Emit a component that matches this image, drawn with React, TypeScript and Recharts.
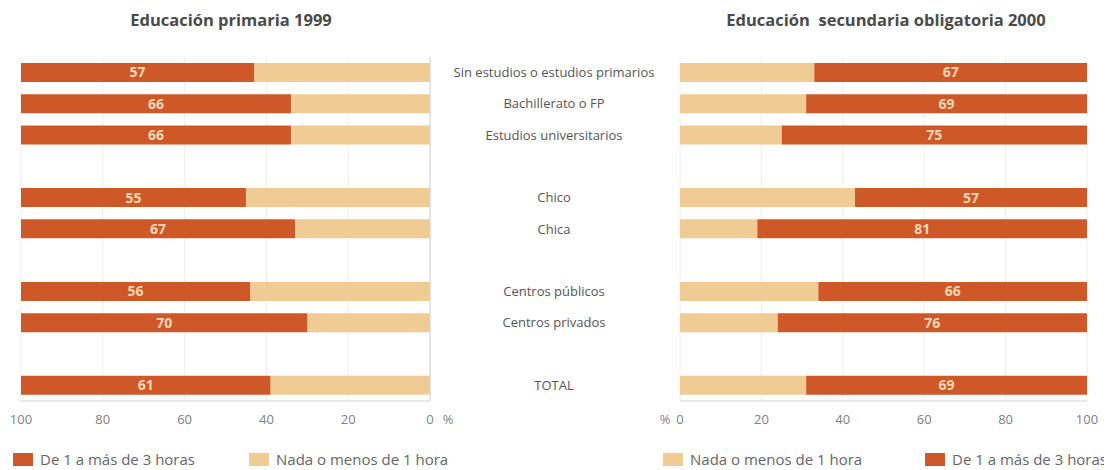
import { BarChart, Bar, XAxis, YAxis, CartesianGrid, LabelList } from "recharts"

const categories = [
  "Sin estudios o estudios primarios",
  "Bachillerato o FP",
  "Estudios universitarios",
  "",
  "Chico",
  "Chica",
  "",
  "Centros públicos",
  "Centros privados",
  "",
  "TOTAL",
]

// Educación primaria 1999
const primariaMas = [57, 66, 66, null, 55, 67, null, 56, 70, null, 61]
const primariaNada = [43, 34, 34, null, 45, 33, null, 44, 30, null, 39]

// Educación secundaria obligatoria 2000
const secundariaNada = [33, 31, 25, null, 43, 19, null, 34, 24, null, 31]
const secundariaMas = [67, 69, 75, null, 57, 81, null, 66, 76, null, 69]

const xTicks = [0, 20, 40, 60, 80, 100]

const DARK = "#cf5829"
const LIGHT = "#f0cc94"
const LABEL = "#f8d7b4"
const AXIS = "#d2d2d2"
const GRID = "#eeeeee"
const FONT = '"Open Sans", "Noto Sans", sans-serif'

const primariaData = categories.map((name, i) => ({
  key: `c${i}`,
  name,
  nada: primariaNada[i],
  mas: primariaMas[i],
}))

const secundariaData = categories.map((name, i) => ({
  key: `c${i}`,
  name,
  nada: secundariaNada[i],
  mas: secundariaMas[i],
}))

const nameByKey = new Map(primariaData.map((d) => [d.key, d.name]))

function CategoryTick({ x, y, payload }: any) {
  return (
    <text
      x={x + 124}
      y={y}
      dy="0.35em"
      textAnchor="middle"
      fill="#555"
      fontSize={13}
      fontFamily={FONT}
    >
      {nameByKey.get(payload.value) ?? ""}
    </text>
  )
}

function LeftTick({ x, y, payload }: any) {
  return (
    <g fill="#808080" fontSize={13} fontFamily={FONT}>
      <text x={x} y={y} dy={23} textAnchor="middle">
        {payload.value}
      </text>
      {payload.value === 0 && (
        <text x={x + 18} y={y} dy={23} textAnchor="middle">
          %
        </text>
      )}
    </g>
  )
}

function RightTick({ x, y, payload }: any) {
  return (
    <g fill="#808080" fontSize={13} fontFamily={FONT}>
      <text x={x} y={y} dy={23} textAnchor="middle">
        {payload.value}
      </text>
      {payload.value === 0 && (
        <text x={x - 15} y={y} dy={23} textAnchor="middle">
          %
        </text>
      )}
    </g>
  )
}

function LegendItem({ left, color, text }: { left: number; color: string; text: string }) {
  return (
    <div
      style={{
        position: "absolute",
        left,
        top: 450,
        height: 18,
        display: "flex",
        alignItems: "center",
        fontFamily: FONT,
        fontSize: 15,
        color: "#666",
        whiteSpace: "nowrap",
      }}
    >
      <span style={{ display: "inline-block", width: 20, height: 13, background: color, marginRight: 7 }} />
      {text}
    </div>
  )
}

const titleStyle = {
  position: "absolute" as const,
  top: 8,
  textAlign: "center" as const,
  fontFamily: FONT,
  fontWeight: 700,
  fontSize: 16.5,
  lineHeight: "24px",
  color: "#4a4a4a",
}

export default function App() {
  return (
    <div style={{ position: "relative", width: 1112, height: 470, marginLeft: -8, marginTop: -8, background: "#fff" }}>
      <div style={{ ...titleStyle, left: 0, width: 462 }}>Educación primaria 1999</div>
      <div style={{ ...titleStyle, left: 660, width: 452, whiteSpace: "pre" }}>Educación  secundaria obligatoria 2000</div>

      <div style={{ position: "absolute", left: 0, top: 0 }}>
        <BarChart
          layout="vertical"
          width={680}
          height={470}
          data={primariaData}
          margin={{ top: 57, right: 0, bottom: 39, left: 21 }}
          barSize={19}
        >
          <CartesianGrid horizontal={false} stroke={GRID} />
          <XAxis
            type="number"
            domain={[0, 100]}
            ticks={xTicks}
            reversed
            height={30}
            axisLine={{ stroke: AXIS }}
            tickLine={false}
            tickSize={0}
            tickMargin={0}
            tick={<LeftTick />}
          />
          <YAxis
            type="category"
            dataKey="key"
            orientation="right"
            width={250}
            axisLine={{ stroke: AXIS }}
            tickLine={false}
            tickSize={0}
            tickMargin={0}
            tick={<CategoryTick />}
          />
          <Bar dataKey="nada" stackId="a" fill={LIGHT} isAnimationActive={false} />
          <Bar dataKey="mas" stackId="a" fill={DARK} isAnimationActive={false}>
            <LabelList
              dataKey="mas"
              position="center"
              fill={LABEL}
              fontSize={14}
              fontWeight="bold"
              fontFamily={FONT}
            />
          </Bar>
        </BarChart>
      </div>

      <div style={{ position: "absolute", left: 660, top: 0 }}>
        <BarChart
          layout="vertical"
          width={452}
          height={470}
          data={secundariaData}
          margin={{ top: 57, right: 25, bottom: 39, left: 20 }}
          barSize={19}
        >
          <CartesianGrid horizontal={false} stroke={GRID} />
          <XAxis
            type="number"
            domain={[0, 100]}
            ticks={xTicks}
            height={30}
            axisLine={{ stroke: AXIS }}
            tickLine={false}
            tickSize={0}
            tickMargin={0}
            tick={<RightTick />}
          />
          <YAxis
            type="category"
            dataKey="key"
            width={0}
            axisLine={{ stroke: AXIS }}
            tickLine={false}
            tick={false}
          />
          <Bar dataKey="nada" stackId="a" fill={LIGHT} isAnimationActive={false} />
          <Bar dataKey="mas" stackId="a" fill={DARK} isAnimationActive={false}>
            <LabelList
              dataKey="mas"
              position="center"
              fill={LABEL}
              fontSize={14}
              fontWeight="bold"
              fontFamily={FONT}
            />
          </Bar>
        </BarChart>
      </div>

      <LegendItem left={13} color={DARK} text="De 1 a más de 3 horas" />
      <LegendItem left={249} color={LIGHT} text="Nada o menos de 1 hora" />
      <LegendItem left={663} color={LIGHT} text="Nada o menos de 1 hora" />
      <LegendItem left={925} color={DARK} text="De 1 a más de 3 horas" />
    </div>
  )
}
